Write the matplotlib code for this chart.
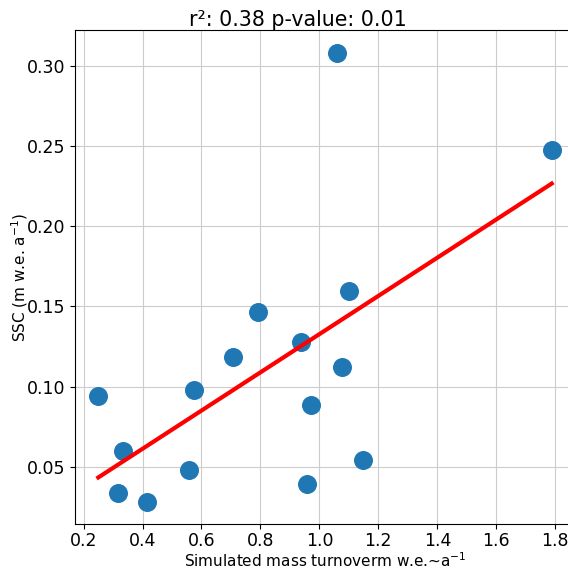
import numpy as np
import matplotlib.pyplot as plt

# simulated mass turnover vs SSC
mass_turnover = [0.250, 0.335, 0.316, 0.416, 0.557, 0.574, 0.706, 0.792,
                 0.939, 1.075, 0.972, 1.148, 0.957, 1.102, 1.061, 1.788]
ssc = [0.0943, 0.060, 0.0334, 0.028, 0.0478, 0.098, 0.1183, 0.1466,
       0.128, 0.1122, 0.0883, 0.0542, 0.039, 0.1599, 0.3084, 0.2479]
r2 = 0.38
p_value = 0.01

x = np.array(mass_turnover)
y = np.array(ssc)
slope, intercept = np.polyfit(x, y, 1)

fig = plt.figure(figsize=(5.68, 5.69), dpi=100)
ax = fig.add_axes([75 / 568, 1 - 524 / 569, 500 / 568, 494 / 569])

ax.scatter(x, y, s=160, color='#1f77b4', zorder=3)
x_fit = np.array([x.min(), x.max()])
ax.plot(x_fit, slope * x_fit + intercept, color='red', linewidth=3, zorder=4)

ax.set_xlim(0.171, 1.867)
ax.set_ylim(0.0142, 0.3226)
ax.set_xticks(np.arange(0.2, 1.81, 0.2))
ax.set_yticks([0.05, 0.10, 0.15, 0.20, 0.25, 0.30])
ax.tick_params(labelsize=12.5)
ax.tick_params(axis='x', pad=2)
ax.grid(True, color='#cccccc', linewidth=0.8)
ax.set_axisbelow(True)

ax.set_xlabel(r'Simulated mass turnoverm w.e.~a$^{-1}$', fontsize=11, labelpad=1)
ax.set_ylabel(r'SSC (m w.e. a$^{-1}$)', fontsize=11, labelpad=-2)
ax.set_title(f'r²: {r2} p-value: {p_value}', fontsize=14.8, x=0.445, pad=3)

fig.savefig('out.png', dpi=100)
